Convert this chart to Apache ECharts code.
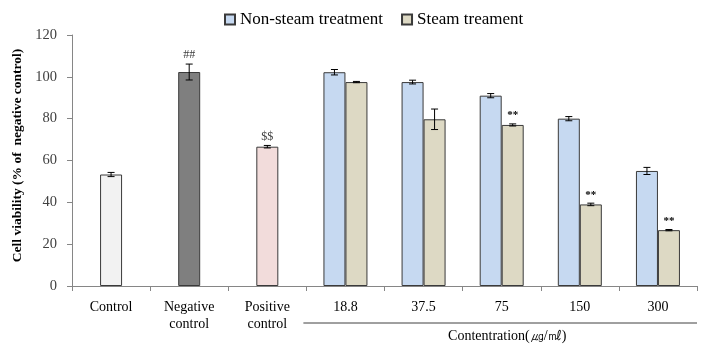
<!DOCTYPE html>
<html><head><meta charset="utf-8">
<script src="https://cdn.jsdelivr.net/npm/echarts@6/dist/echarts.min.js"></script>
<style>html,body{margin:0;padding:0;background:#fff}#c{width:708px;height:349px}</style>
</head><body><div id="c"></div>
<script>
// ---- data ----
const categories = ['Control', 'Negative\ncontrol', 'Positive\ncontrol', '18.8', '37.5', '75', '150', '300'];
const controlValues = [53.3, 102.3, 66.6, null, null, null, null, null];
const controlErrors = [1.0, 3.8, 0.6, null, null, null, null, null];
const controlMarks  = ['', '##', '$$', '', '', '', '', ''];
const nonSteamValues = [null, null, null, 102.2, 97.5, 91.0, 80.0, 55.0];
const nonSteamErrors = [null, null, null, 1.3, 0.9, 1.0, 1.0, 1.7];
const steamValues = [null, null, null, 97.5, 79.7, 77.0, 39.0, 26.7];
const steamErrors = [null, null, null, 0.3, 4.9, 0.5, 0.6, 0.3];
const steamMarks  = ['', '', '', '', '', '**', '**', '**'];
const seriesNames = ['Non-steam treatment', 'Steam treament'];
const yMin = 0, yMax = 120, yInterval = 20;
const concentrationTitle = 'Contentration(㎍/㎖)';
const yTitle = 'Cell viability (% of  negative control)';

// ---- styles ----
const controlColors = ['#f2f2f2', '#7f7f7f', '#f2dcdb'];
const nonSteamColor = '#c6d9f1';
const steamColor = '#ddd9c4';
const BAR_W = 22;
const serif = '"Liberation Serif", "Times New Roman", serif';

const chart = echarts.init(document.getElementById('c'));

function errSeries(vals, errs, marks, axisIdx, offset, markStyle) {
  const data = [];
  vals.forEach((v, i) => { if (v != null) data.push([i, v, errs[i]]); });
  return {
    type: 'custom', xAxisIndex: axisIdx, yAxisIndex: 0, z: 10, silent: true,
    encode: { x: 0, y: 1 },
    data: data,
    renderItem: function (params, api) {
      const i = api.value(0), v = api.value(1), e = api.value(2);
      const c = api.coord([i, v]);
      const hi = api.coord([i, v + e]);
      const lo = api.coord([i, v - e]);
      const x = c[0] + offset;
      const w = 3.5;
      const st = { stroke: '#000', lineWidth: 1 };
      const children = [
        { type: 'line', shape: { x1: x, y1: hi[1], x2: x, y2: lo[1] }, style: st },
        { type: 'line', shape: { x1: x - w, y1: hi[1], x2: x + w, y2: hi[1] }, style: st },
        { type: 'line', shape: { x1: x - w, y1: lo[1], x2: x + w, y2: lo[1] }, style: st }
      ];
      if (marks && marks[i]) {
        children.push({
          type: 'text',
          style: Object.assign({ text: marks[i], x: x, y: hi[1] - 3, align: 'center', verticalAlign: 'bottom' }, markStyle)
        });
      }
      return { type: 'group', children: children };
    }
  };
}

const option = {
  animation: false,
  backgroundColor: '#fff',
  grid: { left: 72, right: 11, top: 35, bottom: 63, containLabel: false, outerBoundsMode: 'none' },
  legend: {
    top: 6, left: 219,
    data: seriesNames,
    icon: 'rect', itemWidth: 10, itemHeight: 10, itemGap: 18,
    textStyle: { fontFamily: serif, fontSize: 17, color: '#000' }
  },
  xAxis: [{
    type: 'category', data: categories, gridIndex: 0,
    axisLine: { lineStyle: { color: '#868686', width: 1 } },
    axisTick: { show: true, length: 5, lineStyle: { color: '#868686' } },
    axisLabel: { fontFamily: serif, fontSize: 14, color: '#000', margin: 13, lineHeight: 17, interval: 0 }
  }, {
    type: 'category', data: categories, gridIndex: 0, show: false
  }],
  yAxis: {
    type: 'value', min: yMin, max: yMax, interval: yInterval,
    name: yTitle, nameLocation: 'middle', nameGap: 43, nameRotate: 90,
    nameTextStyle: { fontFamily: serif, fontSize: 13.5, fontWeight: 'bold', color: '#000', padding: [0, 0, 0, 10] },
    axisLine: { show: true, lineStyle: { color: '#868686' } },
    axisTick: { show: true, length: 5, lineStyle: { color: '#868686' } },
    splitLine: { show: false },
    axisLabel: { fontFamily: serif, fontSize: 14.5, color: '#404040', margin: 15 }
  },
  series: [
    {
      type: 'bar', name: 'controls', xAxisIndex: 0, barWidth: BAR_W,
      data: controlValues.map((v, i) => v == null ? null : { value: v, itemStyle: { color: controlColors[i] } }),
      itemStyle: { borderColor: '#3a3a3a', borderWidth: 1 }
    },
    {
      type: 'bar', name: seriesNames[0], xAxisIndex: 1, barWidth: BAR_W, barGap: '0%',
      data: nonSteamValues,
      itemStyle: { color: nonSteamColor, borderColor: '#3a3a3a', borderWidth: 1 }
    },
    {
      type: 'bar', name: seriesNames[1], xAxisIndex: 1, barWidth: BAR_W, barGap: '0%',
      data: steamValues,
      itemStyle: { color: steamColor, borderColor: '#3a3a3a', borderWidth: 1 }
    },
    errSeries(controlValues, controlErrors, controlMarks, 0, 0,
      { font: '12px ' + serif, fill: '#404040' }),
    errSeries(nonSteamValues, nonSteamErrors, null, 1, -BAR_W / 2, {}),
    errSeries(steamValues, steamErrors, steamMarks, 1, BAR_W / 2,
      { font: 'bold 11px ' + serif, fill: '#000' })
  ]
};
chart.setOption(option);

// decoration: bracket line and concentration title under the dose categories
const pA = chart.convertToPixel({ gridIndex: 0 }, [3, 0]);
const pB = chart.convertToPixel({ gridIndex: 0 }, [4, 0]);
const pEnd = chart.convertToPixel({ gridIndex: 0 }, [categories.length - 1, 0]);
const band = pB[0] - pA[0];
const y0 = pA[1];
const x1 = pA[0] - band / 2 - 3;
const x2 = pEnd[0] + band / 2;
chart.setOption({
  graphic: [
    { type: 'line', shape: { x1: x1, y1: y0 + 37, x2: x2, y2: y0 + 37 }, style: { stroke: '#404040', lineWidth: 1 } },
    { type: 'text', x: (x1 + x2) / 2 + 7, y: y0 + 50, style: { text: concentrationTitle, align: 'center', verticalAlign: 'middle', font: '14px ' + serif, fill: '#000' } }
  ]
});
</script>
</body></html>
